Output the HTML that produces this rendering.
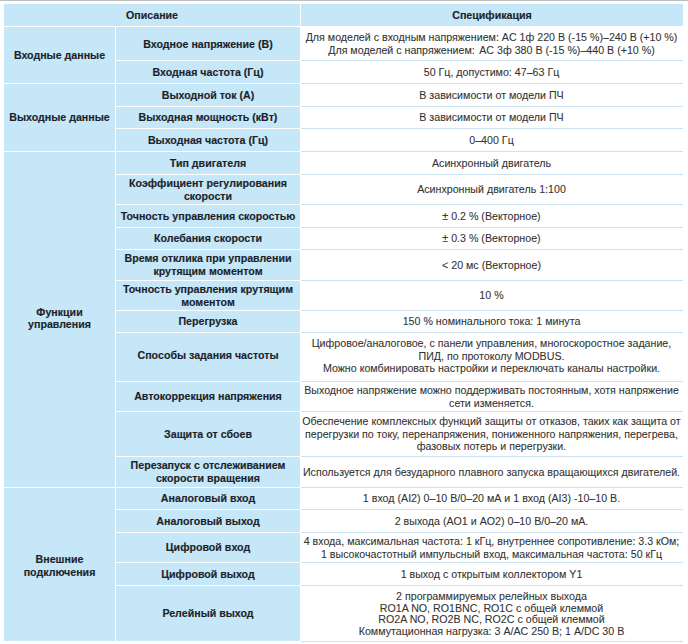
<!DOCTYPE html>
<html><head><meta charset="utf-8">
<style>
html,body{margin:0;padding:0;background:#fff;}
body{width:688px;height:644px;position:relative;overflow:hidden;font-family:"Liberation Sans",sans-serif;font-size:10.65px;line-height:12.75px;}
.topline{position:absolute;left:0;top:0;width:688px;height:1px;background:#bdbdbe;}
.c{position:absolute;display:flex;align-items:center;justify-content:center;text-align:center;box-sizing:border-box;}
.b{background:#c5e7f8;font-weight:bold;color:#1d1f2a;-webkit-text-stroke:0.15px #1d1f2a;}
.w{background:#fff;color:#323232;font-size:10.67px;padding-right:1px;-webkit-text-stroke:0.08px #323232;}
.ln{position:absolute;height:1px;background:#cde2f0;}
span{display:block;white-space:nowrap;position:relative;}
i.g{display:inline-block;width:1.5px;}
</style></head><body>
<div class="topline"></div>
<div class="c b" style="left:4px;top:4px;width:296px;height:22px;"><span style="">Описание</span></div>
<div class="c b" style="left:301px;top:4px;width:382px;height:22px;"><span style="">Спецификация</span></div>
<div class="c b" style="left:4px;top:27px;width:111px;height:56px;"><span style="">Входные данные</span></div>
<div class="c b" style="left:4px;top:84px;width:111px;height:67px;"><span style="">Выходные данные</span></div>
<div class="c b" style="left:4px;top:152px;width:111px;height:335px;"><span style="top:-1.2px;">Функции<br>управления</span></div>
<div class="c b" style="left:4px;top:488px;width:111px;height:153px;"><span style="top:1px;">Внешние<br>подключения</span></div>
<div class="c b" style="left:116px;top:27px;width:184px;height:33px;"><span style="top:1.3px;">Входное напряжение (В)</span></div>
<div class="c w" style="left:301px;top:27px;width:382px;height:33px;"><span style="">Для моделей с входным напряжением: AC 1ф 220 В (-15 %)–240 В (+10 %)<br>Для моделей с напряжением: <i class=g></i>AC 3ф 380 В (-15 %)–440 В (+10 %)</span></div>
<div class="c b" style="left:116px;top:61px;width:184px;height:22px;"><span style="top:0.5px;">Входная частота (Гц)</span></div>
<div class="c w" style="left:301px;top:61px;width:382px;height:22px;"><span style="">50 Гц, допустимо: 47–63 Гц</span></div>
<div class="c b" style="left:116px;top:84px;width:184px;height:22px;"><span style="">Выходной ток (А)</span></div>
<div class="c w" style="left:301px;top:84px;width:382px;height:22px;"><span style="">В зависимости от модели ПЧ</span></div>
<div class="c b" style="left:116px;top:107px;width:184px;height:21px;"><span style="">Выходная мощность (кВт)</span></div>
<div class="c w" style="left:301px;top:107px;width:382px;height:21px;"><span style="">В зависимости от модели ПЧ</span></div>
<div class="c b" style="left:116px;top:129px;width:184px;height:22px;"><span style="">Выходная частота (Гц)</span></div>
<div class="c w" style="left:301px;top:129px;width:382px;height:22px;"><span style="">0–400 Гц</span></div>
<div class="c b" style="left:116px;top:152px;width:184px;height:22px;"><span style="">Тип двигателя</span></div>
<div class="c w" style="left:301px;top:152px;width:382px;height:22px;"><span style="">Асинхронный двигатель</span></div>
<div class="c b" style="left:116px;top:175px;width:184px;height:29px;"><span style="">Коэффициент регулирования<br>скорости</span></div>
<div class="c w" style="left:301px;top:175px;width:382px;height:29px;"><span style="">Асинхронный двигатель 1:100</span></div>
<div class="c b" style="left:116px;top:205px;width:184px;height:22px;"><span style="">Точность управления скоростью</span></div>
<div class="c w" style="left:301px;top:205px;width:382px;height:22px;"><span style="">± 0.2 % (Векторное)</span></div>
<div class="c b" style="left:116px;top:228px;width:184px;height:21px;"><span style="">Колебания скорости</span></div>
<div class="c w" style="left:301px;top:228px;width:382px;height:21px;"><span style="">± 0.3 % (Векторное)</span></div>
<div class="c b" style="left:116px;top:250px;width:184px;height:30px;"><span style="">Время отклика при управлении<br>крутящим моментом</span></div>
<div class="c w" style="left:301px;top:250px;width:382px;height:30px;"><span style="">&lt; 20 мс (Векторное)</span></div>
<div class="c b" style="left:116px;top:281px;width:184px;height:29px;"><span style="top:0.5px;">Точность управления крутящим<br>моментом</span></div>
<div class="c w" style="left:301px;top:281px;width:382px;height:29px;"><span style="">10 %</span></div>
<div class="c b" style="left:116px;top:311px;width:184px;height:21px;"><span style="top:-0.3px;">Перегрузка</span></div>
<div class="c w" style="left:301px;top:311px;width:382px;height:21px;"><span style="">150 % номинального тока: 1 минута</span></div>
<div class="c b" style="left:116px;top:333px;width:184px;height:48px;"><span style="top:-2px;">Способы задания частоты</span></div>
<div class="c w" style="left:301px;top:333px;width:382px;height:48px;"><span style="top:-1px;line-height:12.4px;">Цифровое/аналоговое, с панели управления, многоскоростное задание,<br>ПИД, по протоколу MODBUS.<br>Можно комбинировать настройки и переключать каналы настройки.</span></div>
<div class="c b" style="left:116px;top:382px;width:184px;height:29px;"><span style="">Автокоррекция напряжения</span></div>
<div class="c w" style="left:301px;top:382px;width:382px;height:29px;"><span style="">Выходное напряжение можно поддерживать постоянным, хотя напряжение<br>сети изменяется.</span></div>
<div class="c b" style="left:116px;top:412px;width:184px;height:44px;"><span style="">Защита от сбоев</span></div>
<div class="c w" style="left:301px;top:412px;width:382px;height:44px;"><span style="">Обеспечение комплексных функций защиты от отказов, таких как защита от<br>перегрузки по току, перенапряжения, пониженного напряжения, перегрева,<br>фазовых потерь и перегрузки.</span></div>
<div class="c b" style="left:116px;top:457px;width:184px;height:30px;"><span style="">Перезапуск с отслеживанием<br>скорости вращения</span></div>
<div class="c w" style="left:301px;top:457px;width:382px;height:30px;"><span style="">Используется для безударного плавного запуска вращающихся двигателей.</span></div>
<div class="c b" style="left:116px;top:488px;width:184px;height:21px;"><span style="">Аналоговый вход</span></div>
<div class="c w" style="left:301px;top:488px;width:382px;height:21px;"><span style="">1 вход (AI2) 0–10 В/0–20 мА и 1 вход (AI3) -10–10 В.</span></div>
<div class="c b" style="left:116px;top:510px;width:184px;height:22px;"><span style="">Аналоговый выход</span></div>
<div class="c w" style="left:301px;top:510px;width:382px;height:22px;"><span style="">2 выхода (AO1 и AO2) 0–10 В/0–20 мА.</span></div>
<div class="c b" style="left:116px;top:533px;width:184px;height:29px;"><span style="">Цифровой вход</span></div>
<div class="c w" style="left:301px;top:533px;width:382px;height:29px;"><span style="">4 входа, максимальная частота: 1 кГц, внутреннее сопротивление: 3.3 кОм;<br>1 высокочастотный импульсный вход, максимальная частота: 50 кГц</span></div>
<div class="c b" style="left:116px;top:563px;width:184px;height:22px;"><span style="">Цифровой выход</span></div>
<div class="c w" style="left:301px;top:563px;width:382px;height:22px;"><span style="">1 выход с открытым коллектором Y1</span></div>
<div class="c b" style="left:116px;top:586px;width:184px;height:55px;"><span style="">Релейный выход</span></div>
<div class="c w" style="left:301px;top:586px;width:382px;height:55px;"><span style="top:0.7px;line-height:11.6px;">2 программируемых релейных выхода<br>RO1A NO, RO1BNC, RO1C с общей клеммой<br>RO2A NO, RO2B NC, RO2C с общей клеммой<br>Коммутационная нагрузка: 3 A/AC 250 В; 1 A/DC 30 В</span></div>
<div class="ln" style="left:301px;top:60px;width:382px;"></div>
<div class="ln" style="left:301px;top:83px;width:382px;"></div>
<div class="ln" style="left:301px;top:106px;width:382px;"></div>
<div class="ln" style="left:301px;top:128px;width:382px;"></div>
<div class="ln" style="left:301px;top:151px;width:382px;"></div>
<div class="ln" style="left:301px;top:174px;width:382px;"></div>
<div class="ln" style="left:301px;top:204px;width:382px;"></div>
<div class="ln" style="left:301px;top:227px;width:382px;"></div>
<div class="ln" style="left:301px;top:249px;width:382px;"></div>
<div class="ln" style="left:301px;top:280px;width:382px;"></div>
<div class="ln" style="left:301px;top:310px;width:382px;"></div>
<div class="ln" style="left:301px;top:332px;width:382px;"></div>
<div class="ln" style="left:301px;top:381px;width:382px;"></div>
<div class="ln" style="left:301px;top:411px;width:382px;"></div>
<div class="ln" style="left:301px;top:456px;width:382px;"></div>
<div class="ln" style="left:301px;top:487px;width:382px;"></div>
<div class="ln" style="left:301px;top:509px;width:382px;"></div>
<div class="ln" style="left:301px;top:532px;width:382px;"></div>
<div class="ln" style="left:301px;top:562px;width:382px;"></div>
<div class="ln" style="left:301px;top:585px;width:382px;"></div>
<div class="ln" style="left:301px;top:641px;width:382px;"></div>
</body></html>
